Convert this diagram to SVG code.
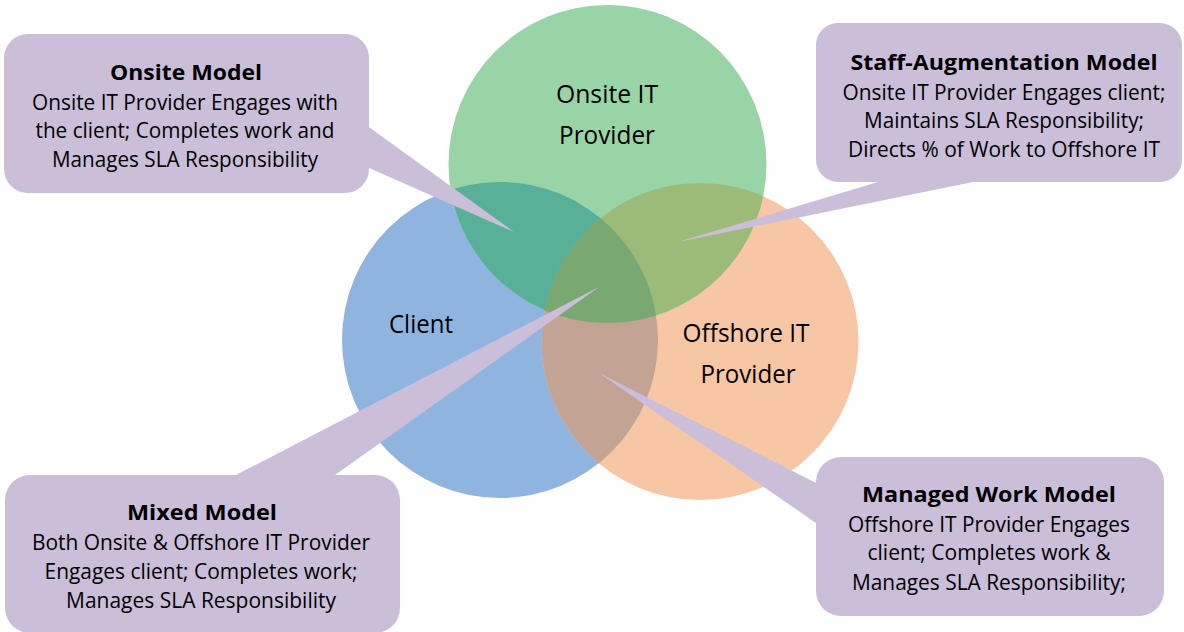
<svg xmlns="http://www.w3.org/2000/svg" width="1184" height="632" viewBox="0 0 1184 632">
<style>
text{font-family:"Open Sans","Noto Sans","Liberation Sans",sans-serif;fill:#000;text-anchor:middle}
.t{font-weight:bold;font-size:21px}
.b{font-size:21px}
.c{font-size:25px}
.box{fill:#CBBED9}
</style>
<defs>
<clipPath id="cpBlue"><circle cx="500" cy="340" r="158"/></clipPath>
<clipPath id="cpOrange"><circle cx="700" cy="341.5" r="158.5"/></clipPath>
<clipPath id="cpGreen"><circle cx="607.5" cy="164" r="159"/></clipPath>
</defs>
<rect width="1184" height="632" fill="#fff"/>
<g id="circles">
<g id="client"><circle cx="500" cy="340" r="158" fill="#8EB4DF"/></g>
<g id="offshore"><circle cx="700" cy="341.5" r="158.5" fill="#F7C6A5"/></g>
<g id="onsite"><circle cx="607.5" cy="164" r="159" fill="#99D4A7"/></g>
<circle cx="700" cy="341.5" r="158.5" fill="#C2A394" clip-path="url(#cpBlue)"/>
<circle cx="607.5" cy="164" r="159" fill="#57B097" clip-path="url(#cpBlue)"/>
<circle cx="607.5" cy="164" r="159" fill="#9CBB79" clip-path="url(#cpOrange)"/>
<g clip-path="url(#cpBlue)"><circle cx="607.5" cy="164" r="159" fill="#7AA873" clip-path="url(#cpOrange)"/></g>
<text class="c" x="607" y="103" textLength="102" lengthAdjust="spacingAndGlyphs">Onsite IT</text>
<text class="c" x="607" y="144" textLength="96" lengthAdjust="spacingAndGlyphs">Provider</text>
<text class="c" x="421" y="333" textLength="64" lengthAdjust="spacingAndGlyphs">Client</text>
<text class="c" x="746" y="342" textLength="127" lengthAdjust="spacingAndGlyphs">Offshore IT</text>
<text class="c" x="748" y="383" textLength="95" lengthAdjust="spacingAndGlyphs">Provider</text>
</g>
<g id="connectors">
<polygon class="box" points="364,123.4 364,165.8 514,232"/>
<polygon class="box" points="894.7,177 997.6,177 678,242"/>
<polygon class="box" points="226.3,480 328,480 599,287"/>
<polygon class="box" points="821,485.5 821,526.5 599,373"/>
</g>
<g id="onsite-model">
<rect class="box" x="4" y="34" width="365" height="159" rx="24"/>
<text class="t" x="186" y="80" textLength="152" lengthAdjust="spacingAndGlyphs">Onsite Model</text>
<text class="b" x="185" y="110" textLength="306" lengthAdjust="spacingAndGlyphs">Onsite IT Provider Engages with</text>
<text class="b" x="185" y="138" textLength="299" lengthAdjust="spacingAndGlyphs">the client; Completes work and</text>
<text class="b" x="185" y="167" textLength="266" lengthAdjust="spacingAndGlyphs">Manages SLA Responsibility</text>
</g>
<g id="staff-augmentation-model">
<rect class="box" x="816" y="23" width="366" height="159" rx="22"/>
<text class="t" x="1004" y="70" textLength="307" lengthAdjust="spacingAndGlyphs">Staff-Augmentation Model</text>
<text class="b" x="1004" y="100" textLength="323" lengthAdjust="spacingAndGlyphs">Onsite IT Provider Engages client;</text>
<text class="b" x="1004" y="128" textLength="280" lengthAdjust="spacingAndGlyphs">Maintains SLA Responsibility;</text>
<text class="b" x="1004" y="157" textLength="312" lengthAdjust="spacingAndGlyphs">Directs % of Work to Offshore IT</text>
</g>
<g id="mixed-model">
<rect class="box" x="5" y="475" width="395" height="158" rx="25"/>
<text class="t" x="202" y="520" textLength="150" lengthAdjust="spacingAndGlyphs">Mixed Model</text>
<text class="b" x="201" y="550" textLength="338" lengthAdjust="spacingAndGlyphs">Both Onsite &amp; Offshore IT Provider</text>
<text class="b" x="201" y="579" textLength="313" lengthAdjust="spacingAndGlyphs">Engages client; Completes work;</text>
<text class="b" x="201" y="608" textLength="270" lengthAdjust="spacingAndGlyphs">Manages SLA Responsibility</text>
</g>
<g id="managed-work-model">
<rect class="box" x="816" y="457" width="348" height="159" rx="25"/>
<text class="t" x="989" y="502" textLength="254" lengthAdjust="spacingAndGlyphs">Managed Work Model</text>
<text class="b" x="989" y="532" textLength="282" lengthAdjust="spacingAndGlyphs">Offshore IT Provider Engages</text>
<text class="b" x="989" y="560" textLength="243" lengthAdjust="spacingAndGlyphs">client; Completes work &amp;</text>
<text class="b" x="989" y="590" textLength="274" lengthAdjust="spacingAndGlyphs">Manages SLA Responsibility;</text>
</g>
</svg>
